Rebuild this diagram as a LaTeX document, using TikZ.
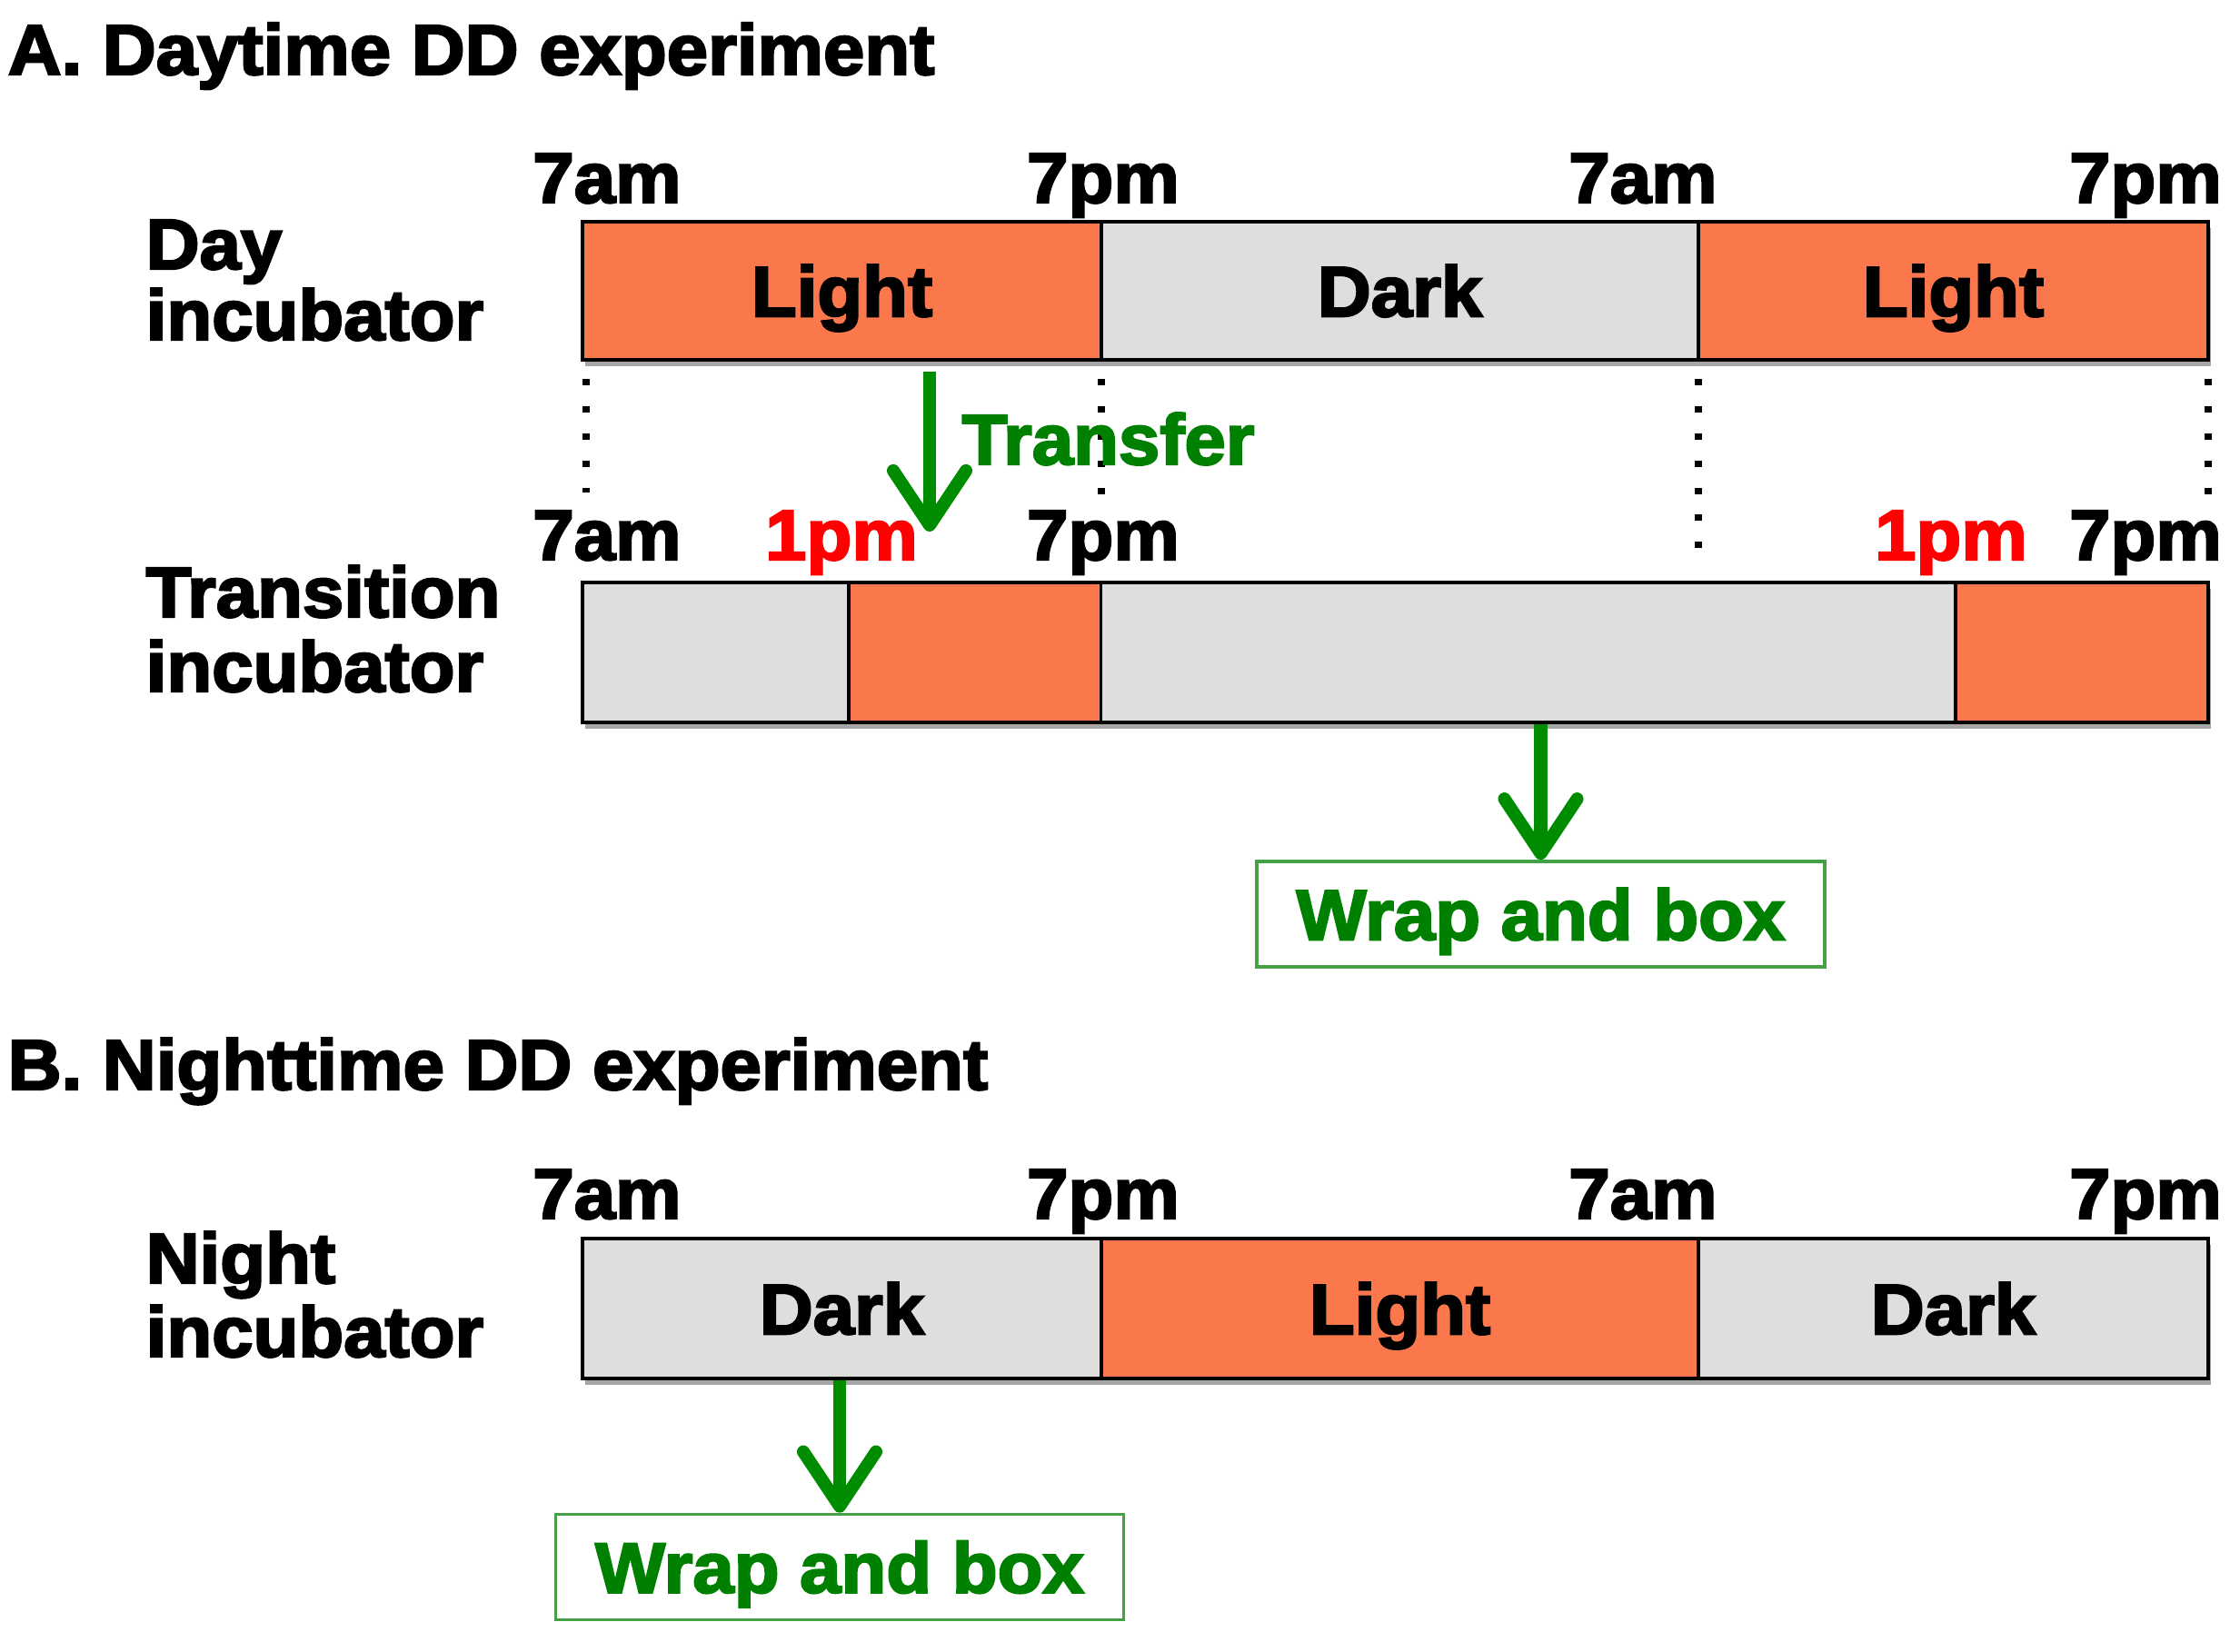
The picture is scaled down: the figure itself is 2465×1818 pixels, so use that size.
\documentclass[tikz,border=0pt]{standalone}
\usepackage{fontspec}
\newfontfamily\blk{Liberation Sans}[FakeStretch=1.04,BoldFeatures={FakeBold=3}]
\usetikzlibrary{arrows.meta,shadows}
\definecolor{ltc}{RGB}{250,120,76}
\definecolor{dkc}{RGB}{222,222,222}
\definecolor{tgrn}{RGB}{0,128,0}
\definecolor{agrn}{RGB}{0,140,0}
\definecolor{bgrn}{RGB}{70,160,70}
\definecolor{rdc}{RGB}{255,0,0}
\begin{document}
\begin{tikzpicture}[x=0.01cm,y=-0.01cm,
  font={\blk\bfseries\fontsize{22.3}{24}\selectfont},
  seg/.style={draw=black,line width=1pt,inner sep=0,text height=16pt,text depth=0pt,
    drop shadow={shadow xshift=0.8pt,shadow yshift=-2pt,opacity=0.35,fill=black}},
  ltseg/.style={seg,fill=ltc},
  dkseg/.style={seg,fill=dkc},
  tm/.style={anchor=base,inner sep=0},
  lab/.style={anchor=base west,inner sep=0},
  garrow/.style={draw=agrn,line width=4pt,-{Straight Barb[round,length=0.6cm,width=0.8cm]}},
  wbox/.style={draw=bgrn,line width=1pt,text=tgrn,minimum width=6.25cm,minimum height=1.16cm,inner sep=0,text height=16pt,text depth=0pt},
  dotline/.style={line width=2pt,dash pattern=on 2pt off 6.5pt}]
\useasboundingbox (0,0) rectangle (2465,1818);

% titles
\node[lab] (titA) at (8,82) {A. Daytime DD experiment};
\node[lab] (titB) at (8,1199) {B. Nighttime DD experiment};

% row labels
\node[lab] (dayA) at (160,296) {Day};
\node[lab] (dayB) at (160,374) {incubator};
\node[lab] (trA) at (160,679) {Transition};
\node[lab] (trB) at (160,761) {incubator};
\node[lab] (niA) at (160,1412) {Night};
\node[lab] (niB) at (160,1493) {incubator};

% day bar
\node[ltseg,minimum width=5.71cm,minimum height=1.52cm] (L1) at (926.5,320) {Light};
\node[dkseg,minimum width=6.57cm,minimum height=1.52cm] (D1) at (1540.5,320) {Dark};
\node[ltseg,minimum width=5.61cm,minimum height=1.52cm] (L2) at (2149.5,320) {Light};

% transition bar
\node[dkseg,minimum width=2.93cm,minimum height=1.54cm] (T1) at (787.5,718) {};
\node[ltseg,minimum width=2.78cm,minimum height=1.54cm] (T2) at (1073,718) {};
\node[dkseg,minimum width=9.40cm,minimum height=1.54cm] (T3) at (1682,718) {};
\node[ltseg,minimum width=2.78cm,minimum height=1.54cm] (T4) at (2291,718) {};

% night bar
\node[dkseg,minimum width=5.71cm,minimum height=1.54cm] (N1) at (926.5,1440) {Dark};
\node[ltseg,minimum width=6.57cm,minimum height=1.54cm] (N2) at (1540.5,1440) {Light};
\node[dkseg,minimum width=5.61cm,minimum height=1.54cm] (N3) at (2149.5,1440) {Dark};

% time labels row 1
\node[tm] (r1a) at (668,223) {7am};
\node[tm] (r1b) at (1214,223) {7pm};
\node[tm] (r1c) at (1808,223) {7am};
\node[tm] (r1d) at (2361,223) {7pm};
% row 2
\node[tm] (r2a) at (668,616) {7am};
\node[tm,text=rdc] (r2b) at (926,616) {1pm};
\node[tm] (r2c) at (1214,616) {7pm};
\node[tm,text=rdc] (r2d) at (2147,616) {1pm};
\node[tm] (r2e) at (2361,616) {7pm};
% row 3
\node[tm] (r3a) at (668,1341) {7am};
\node[tm] (r3b) at (1214,1341) {7pm};
\node[tm] (r3c) at (1808,1341) {7am};
\node[tm] (r3d) at (2361,1341) {7pm};

% dotted guides
\coordinate (g1a) at (645,417); \coordinate (g1b) at (645,542);
\coordinate (g2a) at (1212,417); \coordinate (g2b) at (1212,558);
\coordinate (g3a) at (1869,417); \coordinate (g3b) at (1869,621);
\coordinate (g4a) at (2430,417); \coordinate (g4b) at (2430,558);
\draw[dotline] (g1a) -- (g1b);
\draw[dotline] (g2a) -- (g2b);
\draw[dotline] (g3a) -- (g3b);
\draw[dotline] (g4a) -- (g4b);

% transfer
\coordinate (tf0) at (1023,409);
\coordinate (tf1) at (1023,585);
\draw[garrow] (tf0) -- (tf1);
\node[lab,text=tgrn] (tf) at (1058,511) {Transfer};

% wrap boxes
\node[wbox] (box1) at (1695.5,1006) {Wrap and box};
\node[wbox] (box2) at (924,1724.5) {Wrap and box};
\draw[garrow] (box1.north |- T3.south) -- (box1.north);
\draw[garrow] (box2.north |- N1.south) -- (box2.north);
\end{tikzpicture}
\end{document}
